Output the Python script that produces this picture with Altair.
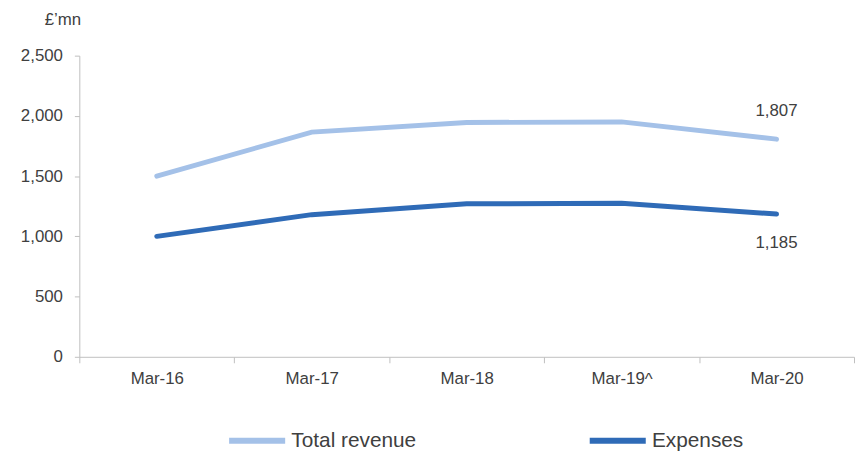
import altair as alt
import pandas as pd

periods = ["Mar-16", "Mar-17", "Mar-18", "Mar-19^", "Mar-20"]
revenue = [1500, 1865, 1945, 1950, 1807]
expenses = [1000, 1180, 1270, 1275, 1185]
series_names = ["Total revenue", "Expenses"]
series_colors = ["#a4c1e8", "#2f6bb7"]
y_ticks = [0, 500, 1000, 1500, 2000, 2500]

rows = []
for p, r, e in zip(periods, revenue, expenses):
    rows.append({"period": p, "series": "Total revenue", "value": r})
    rows.append({"period": p, "series": "Expenses", "value": e})
df = pd.DataFrame(rows)

FONT = "Liberation Sans"
TXT = "#404040"
AX = "#bfbfbf"

x = alt.X(
    "period:N", sort=periods, bandPosition=0.5,
    scale=alt.Scale(type="band", paddingInner=0, paddingOuter=0),
    axis=alt.Axis(title=None, tickBand="extent", labelAngle=0, labelFontSize=17,
                  labelColor=TXT, labelFont=FONT, domainColor=AX, tickColor=AX,
                  tickSize=6, labelPadding=8, grid=False),
)
y = alt.Y(
    "value:Q", scale=alt.Scale(domain=[0, 2500], nice=False),
    axis=alt.Axis(values=y_ticks, format=",.0f", grid=False, title="£’mn",
                  titleAngle=0, titleX=-17, titleY=-36, titleAlign="center",
                  titleBaseline="middle", titleFontSize=17, titleFontWeight="normal",
                  titleColor=TXT, titleFont=FONT, labelFontSize=17, labelColor=TXT,
                  labelFont=FONT, domainColor=AX, tickColor=AX, tickSize=5,
                  labelPadding=12),
)
color = alt.Color(
    "series:N",
    scale=alt.Scale(domain=series_names, range=series_colors),
    legend=alt.Legend(title=None, orient="none", legendX=148, legendY=357,
                      direction="horizontal", symbolType="stroke",
                      symbolStrokeWidth=6, symbolSize=3200, labelFontSize=21,
                      labelFont=FONT, labelColor=TXT, columnPadding=162,
                      labelOffset=3),
)

lines = alt.Chart(df).mark_line(strokeWidth=5, strokeCap="round").encode(
    x=x, y=y, color=color, order=alt.Order("series:N")
)

last = df[df["period"] == periods[-1]]
lab_rev = alt.Chart(last[last["series"] == "Total revenue"]).mark_text(
    dy=-28, fontSize=17, font=FONT, color=TXT
).encode(x=x, y=y, text=alt.Text("value:Q", format=","))
lab_exp = alt.Chart(last[last["series"] == "Expenses"]).mark_text(
    dy=29, fontSize=17, font=FONT, color=TXT
).encode(x=x, y=y, text=alt.Text("value:Q", format=","))

chart = alt.layer(lines, lab_rev, lab_exp).properties(
    width=782, height=304,
    autosize=alt.AutoSizeParams(type="none"),
    padding={"left": 72, "top": 46, "right": 1, "bottom": 96},
).configure_view(stroke=None)

chart.save("out.html", embed_options={"renderer": "svg", "actions": False})
